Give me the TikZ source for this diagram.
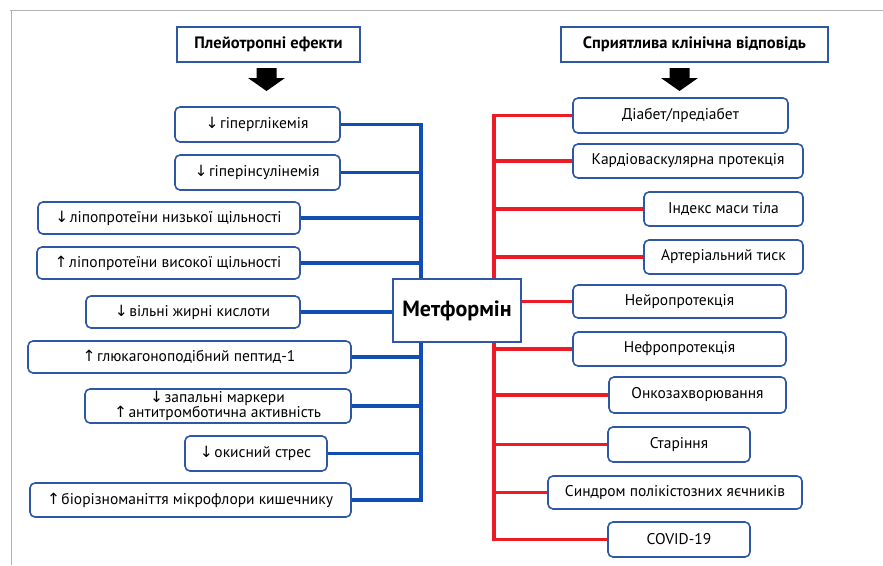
\documentclass[tikz,border=0pt]{standalone}
\usepackage{fontspec}
\setmainfont{PT Sans}
\newfontfamily\arrowfont{DejaVu Sans}
\newcommand\arrdn{{\arrowfont\kern-1pt\char"2193}\kern1.5pt}
\newcommand\arrup{{\arrowfont\kern-1pt\char"2191}\kern1.5pt}
\usetikzlibrary{backgrounds}
\definecolor{boxblue}{RGB}{46,88,166}
\definecolor{busblue}{RGB}{16,78,180}
\definecolor{busred}{RGB}{236,28,36}
\begin{document}
\begin{tikzpicture}[x=1pt, y=-1pt, every node/.style={font=\fontsize{15.5}{15}\selectfont},
  item/.style={draw=boxblue, line width=1.6pt, rounded corners=5pt, fill=white, inner sep=0pt, align=center},
  head/.style={draw=boxblue, line width=1.6pt, fill=white, inner sep=0pt, font=\fontsize{16.5}{18}\selectfont\bfseries},
  bluebus/.style={busblue, line width=3.5pt},
  redbus/.style={busred, line width=3.5pt}]
  \useasboundingbox (0,0) rectangle (883,565);
  \draw[gray!60, line width=1pt] (10,10.5) -- (883,10.5) (11,10) -- (11,565);
  % headers and arrows
  \node[head, minimum width=183pt, minimum height=35pt] (H1) at (268.5,44.5) {Плейотропні ефекти};
  \node[head, minimum width=267pt, minimum height=35pt] (H2) at (694.5,44.5) {Сприятлива клінічна відповідь};
  \coordinate (a1) at (266.5,68); \coordinate (a2) at (679.5,68);
  \foreach \c in {a1,a2}
    \fill (\c) +(-10,0) -- +(10,0) -- +(10,10) -- +(18.5,10) -- +(0,23) -- +(-18.5,10) -- +(-10,10) -- cycle;
  % centre
  \node[draw=boxblue, line width=1.6pt, fill=white, minimum width=128pt, minimum height=63pt,
    font=\fontsize{22}{24}\selectfont\bfseries] (M) at (457,310.5) {Метформін};
  % left column
  \foreach \n/\x/\y/\w/\h/\t in {
    L1/257.5/124.5/165/35/{\arrdn{}гіперглікемія},
    L2/257.5/172.5/165/35/{\arrdn{}гіперінсулінемія},
    L3/169/218/262/32/{\arrdn{}ліпопротеїни низької щільності},
    L4/168.5/263/263/32/{\arrup{}ліпопротеїни високої щільності},
    L5/193/312/214/32/{\arrdn{}вільні жирні кислоти},
    L6/189.5/357/323/32/{\arrup{}глюкагоноподібний пептид-1},
    L7/218/406/266/34/{\arrdn{}запальні маркери\\\arrup{}антитромботична активність},
    L8/256/453.5/142/35/{\arrdn{}окисний стрес},
    L9/190.5/500/321/34/{\arrup{}біорізноманіття мікрофлори кишечнику}}
    \node[item, minimum width=\w pt, minimum height=\h pt] (\n) at (\x,\y) {\t};
  % right column
  \foreach \n/\x/\y/\w/\h/\t in {
    R1/680.5/115.5/215/35/{Діабет/предіабет},
    R2/688/161/230/34/{Кардіоваскулярна протекція},
    R3/723.5/209/159/34/{Індекс маси тіла},
    R4/723.5/257/159/34/{Артеріальний тиск},
    R5/679.5/301.5/213/33/{Нейропротекція},
    R6/679.5/349/213/34/{Нефропротекція},
    R7/697.5/395/177/36/{Онкозахворювання},
    R8/679/444.5/142/35/{Старіння},
    R9/675/492.5/254/33/{Синдром полікістозних яєчників},
    R10/679/539.5/142/35/{COVID-19}}
    \node[item, minimum width=\w pt, minimum height=\h pt] (\n) at (\x,\y) {\t};
  % connectors
  \coordinate (busL) at (421,0); \coordinate (busR) at (494,0);
  \begin{scope}[on background layer]
    \draw[bluebus, line cap=rect] (L1.east -| busL) -- (L9.east -| busL);
    \foreach \n in {L1,L2,L3,L4,L6,L7,L8,L9}
      \draw[bluebus] (\n.east) -- (\n.east -| busL);
    \draw[bluebus] (L5.east) -- (L5.east -| M.west);
    \draw[redbus, line cap=rect] (R1.west -| busR) -- (R10.west -| busR);
    \foreach \n in {R1,R2,R3,R4,R6,R7,R8,R9,R10}
      \draw[redbus] (\n.west) -- (\n.west -| busR);
    \draw[redbus] (R5.west -| M.east) -- (R5.west);
  \end{scope}
\end{tikzpicture}
\end{document}
